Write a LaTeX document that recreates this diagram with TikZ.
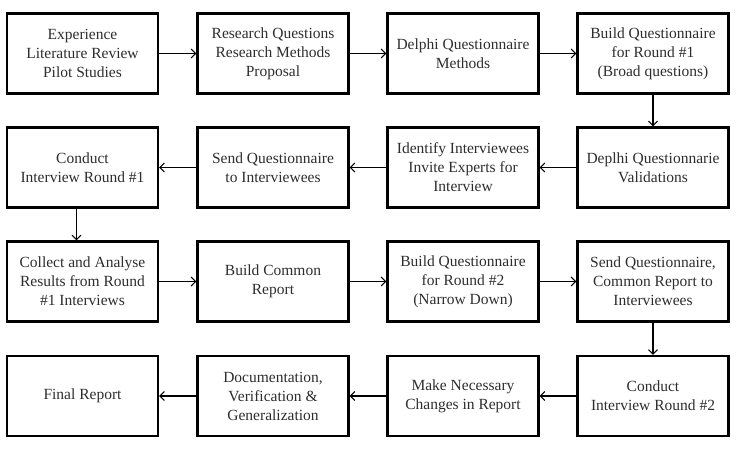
\documentclass[tikz,border=0pt]{standalone}
\usepackage{fontspec}
\setmainfont{Liberation Serif}
\usepackage{xcolor}
\definecolor{boxtext}{RGB}{45, 45, 45}
\usepackage{tikz}
\usetikzlibrary{arrows.meta, positioning, calc}

\tikzset{
    stage/.style={draw, line width=2.3pt, minimum width=151pt, minimum height=80pt,
        align=center, inner sep=2pt, text=boxtext,
        font=\rmfamily\fontsize{15.5}{19}\selectfont},
    flow/.style={->, line width=1.2pt}
}

\begin{document}
\begin{tikzpicture}[x=1pt, y=-1pt, >={Straight Barb[length=4.5pt, width=9pt, line width=1pt]}]
    \useasboundingbox (0, 0) rectangle (736, 465);

    % row 1
    \node[stage] (exp) at (82.5, 53.5) {Experience\\Literature Review\\Pilot Studies};
    \node[stage] (rq)  at (273, 53.5)  {Research Questions\\Research Methods\\Proposal};
    \node[stage] (dqm) at (463, 53.5)  {Delphi Questionnaire\\Methods};
    \node[stage] (bq1) at (653, 53.5)  {Build Questionnaire\\for Round \#1\\(Broad questions)};

    % row 2
    \node[stage] (ci1) at (82.5, 167.5) {Conduct\\Interview Round \#1};
    \node[stage] (sq)  at (273, 167.5)  {Send Questionnaire\\to Interviewees};
    \node[stage] (idi) at (463, 167.5)  {Identify Interviewees\\Invite Experts for\\Interview};
    \node[stage] (dqv) at (653, 167.5)  {Deplhi Questionnarie\\Validations};

    % row 3
    \node[stage] (car) at (82.5, 281.5) {Collect and Analyse\\Results from Round\\\#1 Interviews};
    \node[stage] (bcr) at (273, 281.5)  {Build Common\\Report};
    \node[stage] (bq2) at (463, 281.5)  {Build Questionnaire\\for Round \#2\\(Narrow Down)};
    \node[stage] (sqc) at (653, 281.5)  {Send Questionnaire,\\Common Report to\\Interviewees};

    % row 4
    \node[stage] (fin) at (82.5, 396) {Final Report};
    \node[stage] (dvg) at (273, 396)  {Documentation,\\Verification \&\\Generalization};
    \node[stage] (mnc) at (463, 396)  {Make Necessary\\Changes in Report};
    \node[stage] (ci2) at (653, 396)  {Conduct\\Interview Round \#2};

    % connectors
    \draw[flow] (exp) -- (rq);
    \draw[flow] (rq) -- (dqm);
    \draw[flow] (dqm) -- (bq1);
    \draw[flow] (bq1) -- (dqv);
    \draw[flow] (dqv) -- (idi);
    \draw[flow] (idi) -- (sq);
    \draw[flow] (sq) -- (ci1);
    \draw[flow] ([xshift=-6pt]ci1.south) -- ([xshift=-6pt]car.north);
    \draw[flow] (car) -- (bcr);
    \draw[flow] (bcr) -- (bq2);
    \draw[flow] (bq2) -- (sqc);
    \draw[flow] (sqc) -- (ci2);
    \draw[flow] (ci2) -- (mnc);
    \draw[flow] (mnc) -- (dvg);
    \draw[flow] (dvg) -- (fin);
\end{tikzpicture}
\end{document}
